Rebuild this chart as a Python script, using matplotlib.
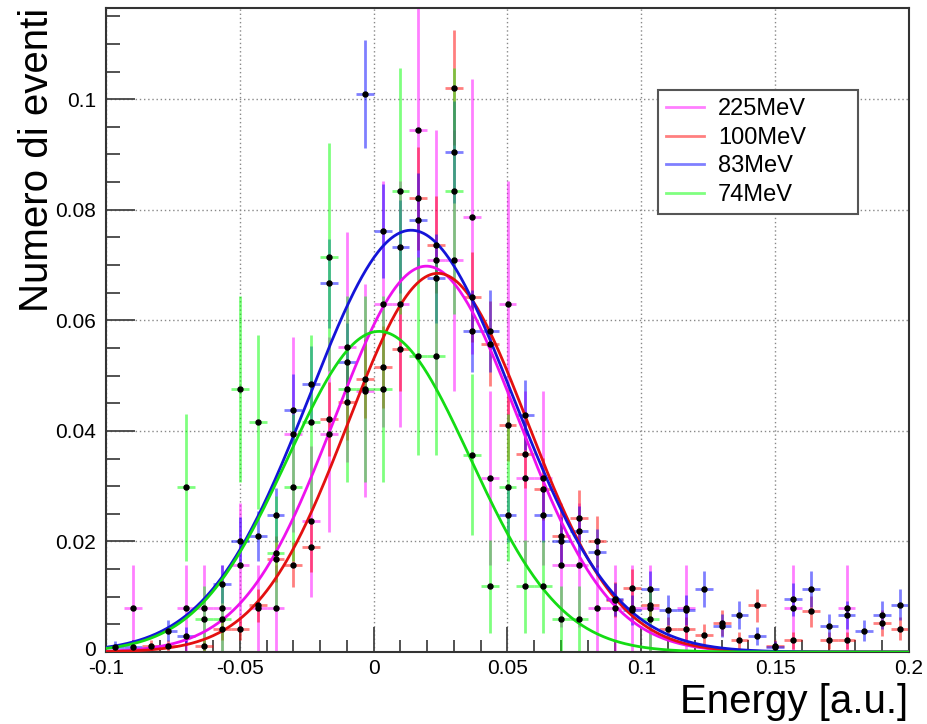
import numpy as np
import matplotlib
matplotlib.use('Agg')
import matplotlib.pyplot as plt
import matplotlib.transforms as mtransforms
from matplotlib.lines import Line2D
from matplotlib.ticker import MultipleLocator, FixedLocator, FixedFormatter

plt.rcParams['font.family'] = ['Liberation Sans', 'DejaVu Sans']

# histogram binning (45 bins on [-0.1, 0.2])
n_bins = 45
x_min, x_max = -0.1, 0.2

# counts per bin
counts_225 = [0, 1, 0, 0, 1, 1, 1, 2, 1, 1, 5, 3, 5, 7, 6, 8, 8, 12, 9, 9, 10, 4, 8,
              4, 4, 2, 2, 1, 1, 1, 1, 0, 1, 0, 0, 0, 0, 0, 1, 0, 0, 1, 0, 0, 0]
counts_100 = [0, 0, 1, 1, 0, 1, 4, 4, 8, 16, 15, 18, 40, 43, 47, 49, 52, 78, 70, 97, 61, 53, 39,
              34, 28, 20, 23, 19, 9, 11, 8, 4, 4, 3, 5, 2, 8, 1, 2, 7, 2, 2, 0, 5, 4]
counts_83 = [1, 1, 0, 4, 3, 0, 13, 21, 22, 26, 46, 51, 70, 55, 106, 80, 77, 82, 71, 95, 61, 61, 26,
             45, 26, 21, 23, 19, 10, 8, 12, 8, 8, 12, 5, 7, 3, 1, 10, 12, 5, 7, 4, 7, 9]
counts_74 = [0, 0, 0, 0, 5, 1, 1, 8, 7, 3, 5, 7, 12, 8, 8, 8, 14, 9, 9, 14, 6, 2, 5,
             2, 2, 1, 1, 0, 0, 0, 1, 0, 0, 0, 0, 0, 0, 0, 0, 0, 0, 0, 0, 0, 0]

# normalisation (events) per sample
events = [127, 950, 1050, 168]

# gaussian fit parameters: amplitude, mean, sigma
fit_amp = [0.0698, 0.0685, 0.0763, 0.058]
fit_mean = [0.0197, 0.0240, 0.014, 0.002]
fit_sigma = [0.0342, 0.0335, 0.038, 0.034]

labels = ['225MeV', '100MeV', '83MeV', '74MeV']
bar_colors = ['#ff00ff', '#ff0000', '#0000ff', '#00ff00']
fit_colors = ['#ee11ee', '#e31010', '#1414d8', '#14dc14']

x_ticks = [-0.1, -0.05, 0, 0.05, 0.1, 0.15, 0.2]
x_ticklabels = ['-0.1', '-0.05', '0', '0.05', '0.1', '0.15', '0.2']
y_ticks = [0, 0.02, 0.04, 0.06, 0.08, 0.1]
y_ticklabels = ['0', '0.02', '0.04', '0.06', '0.08', '0.1']

fig = plt.figure(figsize=(9.28, 7.24), dpi=100)
ax = fig.add_axes([106/928, 1-652/724, 803/928, 644/724])

bw = (x_max - x_min) / n_bins
centers = x_min + bw*(np.arange(n_bins) + 0.5)
xf = np.linspace(x_min, x_max, 600)

all_counts = [counts_225, counts_100, counts_83, counts_74]
for i in range(4):
    c = np.array(all_counts[i], dtype=float)
    m = c > 0
    y = c[m]/events[i]
    err = np.sqrt(c[m])/events[i]
    ax.errorbar(centers[m], y, xerr=bw/2, yerr=err, fmt='none', ecolor=bar_colors[i],
                alpha=0.5, elinewidth=2, capsize=0, zorder=2)
    ax.plot(centers[m], y, 'o', color='black', ms=3.6, zorder=4)
    ax.plot(xf, fit_amp[i]*np.exp(-0.5*((xf-fit_mean[i])/fit_sigma[i])**2),
            color=fit_colors[i], linewidth=2, zorder=3)

ax.set_xlim(x_min, x_max)
ax.set_ylim(0, 0.1165)

ax.xaxis.set_major_locator(FixedLocator(x_ticks))
ax.xaxis.set_major_formatter(FixedFormatter(x_ticklabels))
ax.xaxis.set_minor_locator(MultipleLocator(0.01))
ax.yaxis.set_major_locator(FixedLocator(y_ticks))
ax.yaxis.set_major_formatter(FixedFormatter(y_ticklabels))
ax.yaxis.set_minor_locator(MultipleLocator(0.005))

ax.tick_params(axis='both', which='both', direction='in', color='#444444', width=1.3,
               top=False, right=False, labelsize=15)
ax.tick_params(axis='x', which='major', length=18, pad=5)
ax.tick_params(axis='x', which='minor', length=9)
ax.tick_params(axis='y', which='major', length=21, pad=7)
ax.tick_params(axis='y', which='minor', length=10)
# lift the "0" of the y axis a little, clear of the "-0.1" below it
lab0 = ax.yaxis.get_major_ticks()[0].label1
lab0.set_transform(lab0.get_transform() +
                   mtransforms.ScaledTranslation(0, 4/100, fig.dpi_scale_trans))

for s in ax.spines.values():
    s.set_linewidth(1.5)
    s.set_color('#333333')

ax.set_axisbelow(True)
ax.grid(True, which='major', linestyle=(0, (1, 2)), color='#888888', linewidth=1)

fig.text(37/928, 1-8/724, 'Numero di eventi', rotation=90, ha='center', va='top', fontsize=29)
fig.text(908/928, 1-713/724, 'Energy [a.u.]', ha='right', va='baseline', fontsize=29)

handles = [Line2D([], [], color=bar_colors[i], alpha=0.5, linewidth=2) for i in range(4)]
leg = ax.legend(handles, labels, loc='upper left',
                bbox_to_anchor=((658-106)/803, (652-90)/644, 200/803, 0.0),
                mode='expand', borderaxespad=0, fontsize=17, handlelength=1.6,
                handletextpad=0.6, labelspacing=0.28, borderpad=0.35,
                fancybox=False, framealpha=1)
leg.get_frame().set_edgecolor('#555555')
leg.get_frame().set_linewidth(1.5)

plt.savefig('out.png', dpi=100)
